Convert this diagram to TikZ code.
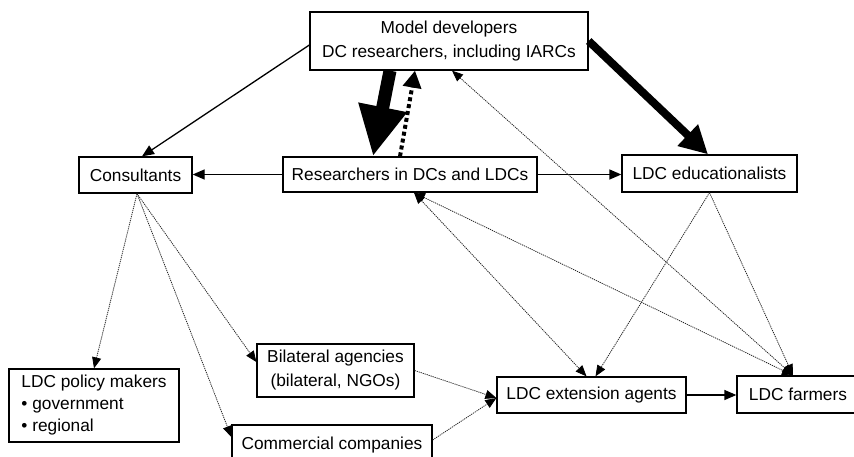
\documentclass[tikz,border=0pt]{standalone}
\usepackage{fontspec}
\setmainfont{Liberation Sans}
\usetikzlibrary{arrows.meta}
\begin{document}
\begin{tikzpicture}[x=1pt,y=-1pt,
  box/.style={draw,line width=1.3pt,inner sep=0pt,align=center,
    font=\fontsize{17.3}{24}\selectfont},
  flow/.style={line width=1.3pt,-{Triangle[width=10pt,length=12pt]}},
  link/.style={draw=black!85,line width=0.8pt,dash pattern=on 1.2pt off 0.9pt},
  linkto/.style={link,-{Triangle[width=9pt,length=11pt,color=black]}},
  linkboth/.style={link,{Triangle[width=9pt,length=11pt,color=black]}-{Triangle[width=9pt,length=11pt,color=black]}}
]
\path[use as bounding box] (0,0) rectangle (854,457);
\clip (0,0) rectangle (854,457);

% boxes
\node[box,minimum width=278pt,minimum height=58pt] (model) at (449,41)
  {Model developers\\DC researchers, including IARCs};
\node[box,minimum width=113pt,minimum height=36pt] (cons) at (135.5,175) {Consultants};
\node[box,minimum width=254pt,minimum height=35pt] (res) at (410,174.5) {Researchers in DCs and LDCs};
\node[box,minimum width=175pt,minimum height=37pt] (edu) at (709.5,173.5) {LDC educationalists};
\node[box,align=left,minimum width=170pt,minimum height=73pt,
  font=\fontsize{17.3}{22}\selectfont] (policy) at (94,405.5)
  {LDC policy makers\\• government\\• regional};
\node[box,minimum width=157pt,minimum height=53pt] (bil) at (335.5,370.5)
  {Bilateral agencies\\(bilateral, NGOs)};
\node[box,minimum width=189pt,minimum height=36pt] (ext) at (591.5,395) {LDC extension agents};
\node[box,minimum width=122pt,minimum height=37pt] (farm) at (798,394.5) {LDC farmers};
\node[box,minimum width=200pt,minimum height=40pt] (comm) at (332,445) {Commercial companies};

% heavy flows out of the model developers
\draw[line width=13pt,-{Triangle[width=46pt,length=50pt]}]
  ([xshift=-59pt]model.south) -- ([xshift=-37pt]res.north);
\draw[line width=4pt,dash pattern=on 4pt off 3pt,-{Triangle[width=18pt,length=17pt]}]
  ([xshift=-10pt]res.north) -- ([xshift=-34pt]model.south);
\draw[line width=8pt,-{Triangle[width=28pt,length=28pt]}]
  (model.east) -- ([xshift=-1.5pt]edu.north);

% solid flows
\draw[flow] ([yshift=-4pt]model.west) -- ([xshift=6.5pt]cons.north);
\draw[flow] (res.west) -- (res.west -| cons.east);
\draw[flow] (res.east) -- (res.east -| edu.west);
\draw[flow] (ext.east) -- (ext.east -| farm.west);

% dotted links
\draw[linkto] ([xshift=1.5pt]cons.south) -- (policy.north);
\draw[linkto] ([xshift=1.5pt]cons.south) -- ([yshift=8.5pt]bil.west);
\draw[linkto] ([xshift=1.5pt]cons.south) -- ([yshift=8pt]comm.west);
\draw[linkto] (bil.east) -- ([yshift=-3pt]ext.west);
\draw[linkto] ([yshift=5pt]comm.east) -- ([yshift=-3pt]ext.west);
\draw[linkto] (edu.south) -- ([xshift=4pt]ext.north);
\draw[linkto] (edu.south) -- ([xshift=-5pt]farm.north);
\draw[linkboth] ([xshift=4pt]res.south) -- ([xshift=-5pt]ext.north);
\draw[linkboth] ([xshift=4pt]res.south) -- ([xshift=-5pt]farm.north);
\draw[linkboth] ([xshift=3pt]model.south) -- ([xshift=-5pt]farm.north);
\end{tikzpicture}
\end{document}
